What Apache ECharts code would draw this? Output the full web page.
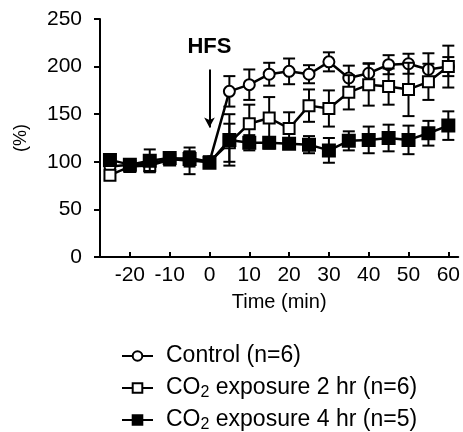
<!DOCTYPE html>
<html><head><meta charset="utf-8">
<script src="https://cdn.jsdelivr.net/npm/echarts@6/dist/echarts.min.js"></script>
<style>html,body{margin:0;padding:0;background:#fff}#c{width:463px;height:432px}</style>
</head><body><div id="c"></div>
<script>
const times = [-25,-20,-15,-10,-5,0,5,10,15,20,25,30,35,40,45,50,55,60];
const controlMean = [95,97,98,103,101,100,174,181,192,195,192,205,188,193,202,203,197,200];
const controlSem  = [5,5,8,4,14,2,16,16,12,13.5,9.5,10,13,10.5,10,10.5,17,10];
const co2h2Mean   = [86,95,96,102,104,100,120,140,146,135,159,156,173,181,179,176,184,200];
const co2h2Sem    = [4,5,6,4,6,2,20,20,22,17,17,19,18,22,19,28,19,22];
const co2h4Mean   = [102,97,101,104,103,99,123,120,120,119,118,112,122,123,125,123,130,138];
const co2h4Sem    = [4,5,12,5,8,2,27,8,6,5,9,13,10,14,14,15,13,15];
const xTicks = [-20,-10,0,10,20,30,40,50,60];
const yTicks = [0,50,100,150,200,250];
const seriesNames = ['Control (n=6)','CO2 exposure 2 hr (n=6)','CO2 exposure 4 hr (n=5)'];

function pts(m){return times.map((t,i)=>[t,m[i]]);}
function errs(m,s){return times.map((t,i)=>[t,m[i],s[i]]);}
function errRender(params, api){
  const x=api.value(0), y=api.value(1), e=api.value(2);
  const top=api.coord([x,y+e]), bot=api.coord([x,y-e]);
  const hw=6, st={stroke:'#000',lineWidth:2};
  return {type:'group',children:[
    {type:'line',shape:{x1:top[0],y1:top[1],x2:bot[0],y2:bot[1]},style:st},
    {type:'line',shape:{x1:top[0]-hw,y1:top[1],x2:top[0]+hw,y2:top[1]},style:st},
    {type:'line',shape:{x1:bot[0]-hw,y1:bot[1],x2:bot[0]+hw,y2:bot[1]},style:st}
  ]};
}
const FONT='Liberation Sans, Arial, Helvetica, sans-serif';
const chart=echarts.init(document.getElementById('c'),null,{renderer:'canvas'});
function lineSeries(name,m,symbol,fill,size,z){
  return {name:name,type:'line',data:pts(m),symbol:symbol,symbolSize:size,showSymbol:true,
    z:z,lineStyle:{color:'#000',width:2.5},itemStyle:{color:fill,borderColor:'#000',borderWidth:2},
    emphasis:{disabled:true}};
}
function errSeries(m,s,z){
  return {type:'custom',renderItem:errRender,data:errs(m,s),encode:{x:0,y:1},z:z,silent:true};
}
const s1=lineSeries(seriesNames[0],controlMean,'circle','#fff',11,3);
s1.markLine={silent:true,symbol:['none','arrow'],symbolSize:[8,10],
  lineStyle:{color:'#000',width:2,type:'solid'},label:{show:false},
  data:[[{coord:[0,197]},{coord:[0,136]}]]};
s1.markPoint={silent:true,symbol:'circle',symbolSize:0,
  label:{show:true,position:'inside',formatter:'HFS',fontFamily:FONT,fontWeight:'bold',fontSize:22,color:'#000'},
  data:[{coord:[0,221]}]};
const option={
  animation:false,
  grid:{left:100,right:3,top:19,bottom:175,containLabel:false},
  xAxis:{type:'value',min:-27.5,max:62.5,
    name:'Time (min)',nameLocation:'middle',nameGap:35,
    nameTextStyle:{fontFamily:FONT,fontSize:20,color:'#000'},
    axisLine:{show:true,onZero:false,lineStyle:{color:'#000',width:2}},
    axisTick:{show:true,inside:true,length:5,lineStyle:{color:'#000',width:2},customValues:xTicks},
    axisLabel:{fontFamily:FONT,fontSize:21,color:'#000',margin:8,customValues:xTicks},
    splitLine:{show:false}},
  yAxis:{type:'value',min:0,max:250,interval:50,
    name:'(%)',nameLocation:'middle',nameGap:70,nameRotate:90,
    nameTextStyle:{fontFamily:FONT,fontSize:18,color:'#000'},
    axisLine:{show:true,onZero:false,lineStyle:{color:'#000',width:2}},
    axisTick:{show:true,inside:false,length:6,lineStyle:{color:'#000',width:2}},
    axisLabel:{fontFamily:FONT,fontSize:21,color:'#000',margin:18},
    splitLine:{show:false}},
  legend:{orient:'vertical',left:116,top:338,height:120,itemWidth:31,itemHeight:12,itemGap:6,
    data:seriesNames,
    formatter:function(n){return n.replace('CO2','CO{sub|2}');},
    textStyle:{fontFamily:FONT,fontSize:23,color:'#000',lineHeight:26,padding:[0,0,0,8],
      rich:{sub:{fontFamily:FONT,fontSize:16,lineHeight:14,verticalAlign:'bottom'}}}},
  series:[
    errSeries(controlMean,controlSem,2), s1,
    errSeries(co2h2Mean,co2h2Sem,4), lineSeries(seriesNames[1],co2h2Mean,'rect','#fff',11,5),
    errSeries(co2h4Mean,co2h4Sem,6), lineSeries(seriesNames[2],co2h4Mean,'rect','#000',12,7)
  ]
};
chart.setOption(option);
</script></body></html>
